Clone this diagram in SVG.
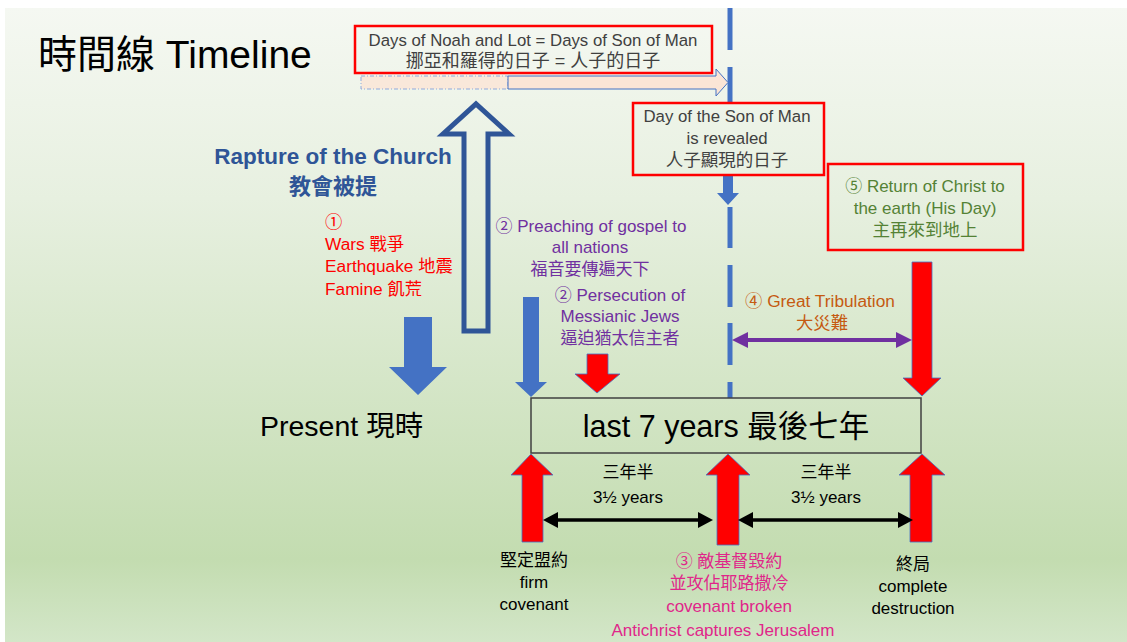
<svg xmlns="http://www.w3.org/2000/svg" width="1127" height="642" viewBox="0 0 1127 642">
<defs>
<linearGradient id="bg" x1="0" y1="0" x2="0" y2="1">
<stop offset="0" stop-color="#f5f8f2"/>
<stop offset="0.3" stop-color="#e7f0e0"/>
<stop offset="0.87" stop-color="#c3dcb0"/>
<stop offset="1" stop-color="#d3e6c8"/>
</linearGradient>
<style>
text{font-family:"Liberation Sans","Noto Sans CJK TC",sans-serif;}
.cd{font-family:"Noto Sans CJK TC",sans-serif;}
.c{text-anchor:middle;}
.box{fill:none;stroke:#ff0000;stroke-width:2.5;}
.gray{fill:#404040;font-size:16.8px;}
.red{fill:#ff0000;font-size:17.3px;}
.pur{fill:#7030a0;font-size:17px;}
.blk{fill:#000;font-size:17px;}
.pink{fill:#e0268a;font-size:17px;}
.ra{fill:#ff0000;stroke:#4472c4;stroke-width:0.8;}
.ba{fill:#4472c4;}
.vl{stroke:#4472c4;stroke-width:5;}
</style>
</defs>
<rect x="0" y="0" width="1127" height="642" fill="#ffffff"/>
<rect x="5" y="8" width="1122" height="634" fill="url(#bg)"/>

<g id="title"><text x="38" y="68" font-size="39" fill="#000">時間線 Timeline</text></g>

<g id="connectors">
<line class="vl" x1="730" y1="8" x2="730" y2="50"/>
<line class="vl" x1="730" y1="67" x2="730" y2="103"/>
<line class="vl" x1="730" y1="207" x2="730" y2="248"/>
<line class="vl" x1="730" y1="265" x2="730" y2="307"/>
<line class="vl" x1="730" y1="323" x2="730" y2="365"/>
<line class="vl" x1="730" y1="382" x2="730" y2="398"/>
<rect x="361" y="76" width="147" height="13" fill="#fbe5d6" fill-opacity="0.8" stroke="#8faadc" stroke-width="1" stroke-dasharray="4 2 1 2"/>
<path d="M508,76 L716,76 L716,69 L728,82.5 L716,96 L716,89 L508,89 Z" fill="#fbe5d6" stroke="#4472c4" stroke-width="1"/>
<path d="M464,331 L464,134 L443,134 L476,104 L509,134 L488,134 L488,331 Z" fill="none" stroke="#2f5597" stroke-width="5"/>
<polygon class="ba" points="404,317 432,317 432,367 447,367 418,395 389,367 404,367"/>
<polygon class="ba" points="523,297 539,297 539,382 547,382 531,397 515,382 523,382"/>
<polygon class="ba" points="723,175 733,175 733,193 739,193 728,205 717,193 723,193"/>
<polygon class="ra" points="587,354 608,354 608,374 620,374 597,393 575,374 587,374"/>
<polygon class="ra" points="912,262 932,262 932,378 941,378 922,396 903,378 912,378"/>
<polygon class="ra" points="531,454 553,475 543,475 543,542 522,542 522,475 511,475"/>
<polygon class="ra" points="728,454 750,475 739,475 739,545 717,545 717,475 706,475"/>
<polygon class="ra" points="922,454 945,475 932,475 932,542 910,542 910,475 899,475"/>
<line x1="745" y1="340" x2="899" y2="340" stroke="#7030a0" stroke-width="4"/>
<polygon points="732,340 748,332 748,348" fill="#7030a0"/>
<polygon points="912,340 896,332 896,348" fill="#7030a0"/>
<line x1="555" y1="520" x2="701" y2="520" stroke="#000" stroke-width="3.5"/>
<polygon points="543,520 558,512 558,528" fill="#000"/>
<polygon points="713,520 698,512 698,528" fill="#000"/>
<line x1="750" y1="520" x2="901" y2="520" stroke="#000" stroke-width="3.5"/>
<polygon points="738,520 753,512 753,528" fill="#000"/>
<polygon points="913,520 898,512 898,528" fill="#000"/>
</g>

<g id="noah">
<rect class="box" x="355" y="26" width="357" height="47"/>
<text class="c gray" x="533" y="46">Days of Noah and Lot = Days of Son of Man</text>
<text class="c gray" x="533" y="67" style="font-size:18px">挪亞和羅得的日子 = 人子的日子</text>
</g>

<g id="dayrevealed">
<rect class="box" x="633" y="103" width="191" height="72"/>
<text class="c gray" x="727" y="122">Day of the Son of Man</text>
<text class="c gray" x="727" y="144">is revealed</text>
<text class="c gray" x="727" y="166" style="font-size:17.5px">人子顯現的日子</text>
</g>

<g id="return">
<rect class="box" x="828" y="164" width="195" height="86"/>
<text class="c" x="925" y="192" fill="#548235" font-size="17"><tspan class="cd">⑤</tspan> Return of Christ to</text>
<text class="c" x="925" y="214" fill="#548235" font-size="17">the earth (His Day)</text>
<text class="c" x="925" y="236" fill="#548235" font-size="17.5">主再來到地上</text>
</g>

<g id="rapture">
<text class="c" x="333" y="164" fill="#2f5597" font-size="22.5" font-weight="bold">Rapture of the Church</text>
<text class="c" x="333" y="194" fill="#2f5597" font-size="22" font-weight="bold">教會被提</text>
</g>

<g id="signs">
<text class="red cd" x="325" y="228">①</text>
<text class="red" x="325" y="250">Wars 戰爭</text>
<text class="red" x="325" y="272">Earthquake 地震</text>
<text class="red" x="325" y="295">Famine 飢荒</text>
</g>

<g id="preaching">
<text class="c pur" x="591" y="232"><tspan class="cd">②</tspan> Preaching of gospel to</text>
<text class="c pur" x="590" y="253">all nations</text>
<text class="c pur" x="590" y="275">福音要傳遍天下</text>
</g>

<g id="persecution">
<text class="c pur" x="620" y="301"><tspan class="cd">②</tspan> Persecution of</text>
<text class="c pur" x="620" y="322">Messianic Jews</text>
<text class="c pur" x="620" y="344">逼迫猶太信主者</text>
</g>

<g id="tribulation">
<text class="c" x="820" y="307" fill="#c55a11" font-size="17.3"><tspan class="cd">④</tspan> Great Tribulation</text>
<text class="c" x="822" y="329" fill="#c55a11" font-size="17.3">大災難</text>
</g>

<g id="present"><text x="260" y="436" font-size="28.5" fill="#000">Present 現時</text></g>

<g id="seven">
<rect x="531" y="398" width="390" height="55" fill="none" stroke="#404040" stroke-width="1.5"/>
<text class="c" x="726" y="437" font-size="30.5" fill="#000">last 7 years 最後七年</text>
</g>

<g id="half1">
<text class="c blk" x="628" y="478">三年半</text>
<text class="c blk" x="628" y="503">3½ years</text>
</g>
<g id="half2">
<text class="c blk" x="826" y="478">三年半</text>
<text class="c blk" x="826" y="503">3½ years</text>
</g>

<g id="firm">
<text class="c blk" x="534" y="566">堅定盟約</text>
<text class="c blk" x="534" y="588">firm</text>
<text class="c blk" x="534" y="610">covenant</text>
</g>

<g id="broken">
<text class="c pink" x="729" y="567"><tspan class="cd">③</tspan> 敵基督毀約</text>
<text class="c pink" x="729" y="589">並攻佔耶路撒冷</text>
<text class="c pink" x="729" y="612">covenant broken</text>
<text class="c pink" x="723" y="636">Antichrist captures Jerusalem</text>
</g>

<g id="end">
<text class="c blk" x="913" y="570">終局</text>
<text class="c blk" x="913" y="592">complete</text>
<text class="c blk" x="913" y="614">destruction</text>
</g>
</svg>
